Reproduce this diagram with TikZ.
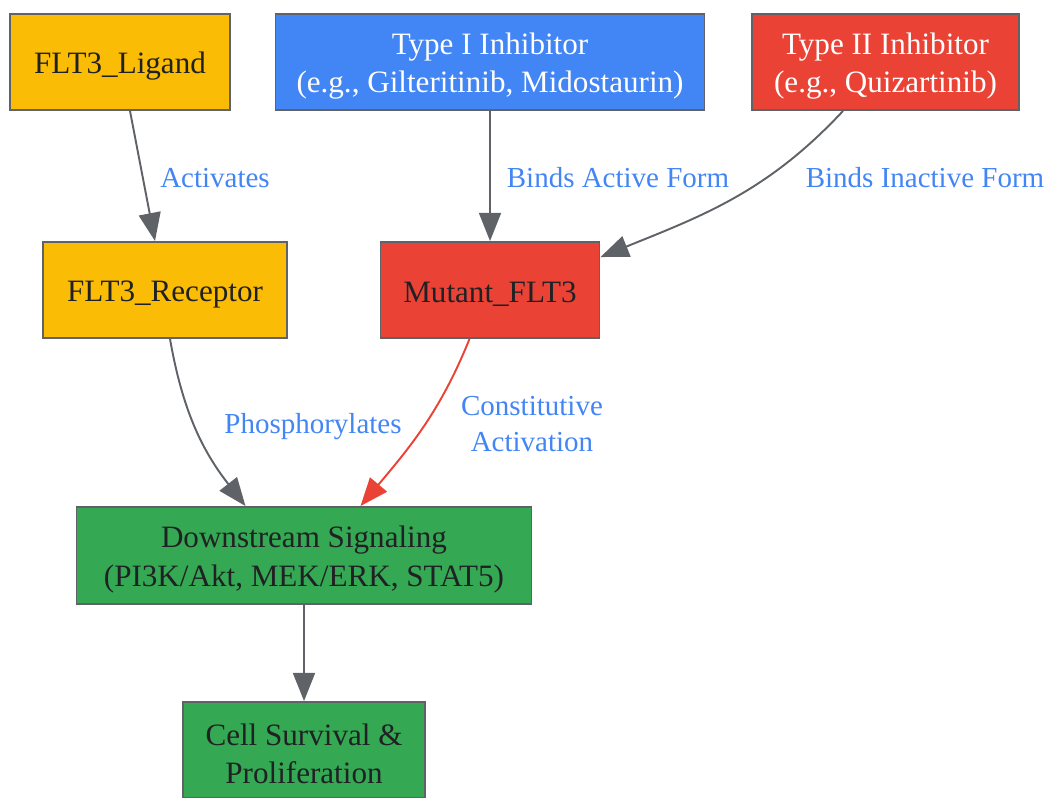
\documentclass[tikz,border=0pt]{standalone}
\usepackage{fontspec}
\setmainfont{Liberation Serif}
\usetikzlibrary{arrows.meta,positioning}

\definecolor{gyellow}{HTML}{FBBC05}
\definecolor{gblue}{HTML}{4285F4}
\definecolor{gred}{HTML}{EA4335}
\definecolor{ggreen}{HTML}{34A853}
\definecolor{ggray}{HTML}{5F6368}
\definecolor{gtext}{HTML}{202124}

\newcommand{\tstrut}{\rule{0pt}{16.9pt}}

\tikzset{
box/.style={draw=ggray, line width=1.1pt, minimum height=1.92cm, align=center,
  text=gtext, font=\fontsize{17.7}{21.8}\selectfont},
lbl/.style={text=gblue, align=center, inner sep=1pt, font=\fontsize{16.5}{20}\selectfont},
link/.style={draw=ggray, line width=1.1pt, -{Triangle[length=16pt,width=12.5pt]}},
}

\begin{document}
\begin{tikzpicture}[]
\useasboundingbox (0,0) rectangle (20.94,-15.94);

\begin{scope}[every node/.style={box}]
\node[fill=gyellow, minimum width=4.40cm](lig) at(2.40,-1.24) {\tstrut FLT3\_Ligand};
\node[fill=gblue, text=white, minimum width=8.58cm](typeone) at(9.80,-1.24) {\tstrut Type I Inhibitor\\(e.g., Gilteritinib, Midostaurin)};
\node[fill=gred, text=white, minimum width=5.34cm](typetwo) at(17.71,-1.24) {\tstrut Type II Inhibitor\\(e.g., Quizartinib)};
\node[fill=gyellow, minimum width=4.88cm](rec) at(3.30,-5.80) {\tstrut FLT3\_Receptor};
\node[fill=gred, minimum width=4.38cm](mut) at(9.80,-5.80) {\tstrut Mutant\_FLT3};
\node[fill=ggreen, minimum width=9.10cm, minimum height=1.94cm](down) at(6.08,-11.11) {\tstrut Downstream Signaling\\(PI3K/Akt, MEK/ERK, STAT5)};
\node[fill=ggreen, minimum width=4.84cm](cell) at(6.08,-15.00) {\tstrut Cell Survival \&\\Proliferation};
\end{scope}

\begin{scope}[every node/.style={lbl}]
\node(lact) at(4.30,-3.56) {Activates};
\node(lbact) at(12.36,-3.56) {Binds Active Form};
\node(lbinact) at(18.50,-3.56) {Binds Inactive Form};
\node(lphos) at(6.26,-8.54) {Phosphorylates};
\node(lconst) at(10.64,-8.48) {Constitutive\\Activation};
\end{scope}

\draw[link] ([xshift=0.2cm]lig.south) -- ([xshift=-0.2cm]rec.north);
\draw[link] (typeone.south) -- (mut.north);
\draw[link] ([xshift=-0.85cm]typetwo.south) to[out=-133, in=22] ([yshift=-0.32cm]mut.north east);
\draw[link] ([xshift=0.1cm]rec.south) to[out=-80, in=128] ([xshift=-1.17cm]down.north);
\draw[link, draw=gred, color=gred] ([xshift=-0.41cm]mut.south) to[out=-112, in=50] ([xshift=1.13cm]down.north);
\draw[link] (down.south) -- (cell.north);

\end{tikzpicture}
\end{document}
